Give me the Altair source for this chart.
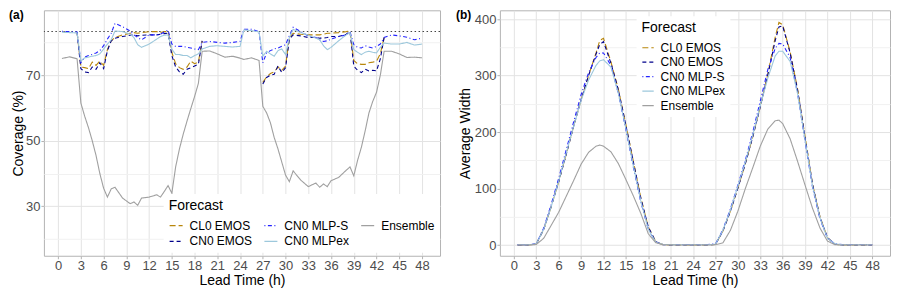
import altair as alt
import pandas as pd

FORECASTS = ["CL0 EMOS", "CN0 EMOS", "CN0 MLP-S", "CN0 MLPex", "Ensemble"]
COLORS = ["#B8860B", "#00008B", "#2424FF", "#9DC8DC", "#A0A0A0"]
DASHES = [[6, 3], [4, 3], [1, 2.5, 4, 2.5], [1, 0], [1, 0]]
X_TICKS = list(range(0, 49, 3))
NOMINAL = [83.33]
PANEL_LABELS = ["(a)", "(b)"]

# ---- panel (a): coverage ----
LT = [0.5, 1.5, 2.5, 3, 3.5, 4, 4.5, 5, 5.5, 6, 6.5, 7, 7.5, 8.5, 9.5, 10, 10.5, 11, 12, 13,
      13.5, 14, 14.5, 15, 15.5, 16, 16.5, 17, 17.5, 18, 18.5, 19, 20, 21, 22, 23, 24, 24.5,
      25.5, 26.5, 27, 27.5, 28, 28.5, 29, 29.5, 30, 30.5, 31, 32, 33, 34, 34.5, 35, 35.5, 36,
      37, 38, 38.5, 39, 39.5, 40, 40.5, 41, 41.5, 42, 42.5, 43, 44, 45, 46, 47, 48]

CL0_EMOS_COV = [None, None, 83.0, 72.5, 72.3, 72.0, 74.0, 73.0, 74.3, 73.0, 77.8, 80.5, 81.5, 82.3,
                82.8, 83.0, 82.8, 83.0, 83.3, 83.3, 83.0, 83.3, 83.3, 77.0, 73.5, 72.3, 71.8, 72.5,
                74.3, 73.5, 74.0, 80.5, None, None, None, None, None, None, None, None, 67.8, 69.5,
                70.5, 71.0, 72.5, 71.5, 72.8, 81.5, 82.8, 82.5, 82.3, 82.3, 82.3, 82.5, 82.8, 82.8,
                83.0, 83.3, 83.5, 74.5, 73.5, 73.3, 73.3, 73.8, 74.0, 74.3, 76.5, 81.5, None, None,
                None, None, None]
CN0_EMOS_COV = [None, None, 83.1, 72.0, 71.0, 70.8, 72.5, 71.8, 73.8, 72.0, 77.5, 80.5, 81.3, 81.8,
                82.2, 82.3, 82.0, 82.2, 82.3, 82.3, 82.5, 82.7, 82.8, 76.0, 72.5, 71.0, 70.3, 71.8,
                72.3, 72.8, 73.3, 80.5, None, None, None, None, None, None, None, None, 67.3, 69.3,
                70.0, 70.3, 72.8, 70.8, 72.3, 81.0, 82.3, 82.0, 81.5, 81.5, 81.3, 81.3, 81.5, 81.8,
                81.8, 82.5, 83.3, 72.8, 71.5, 70.8, 71.8, 71.3, 71.5, 71.3, 75.0, 81.5, None, None,
                None, None, None]
MLPS_COV = [83.4, 83.3, 83.2, 73.8, 75.5, 76.0, 76.3, 76.8, 77.5, 79.0, 81.0, 82.8, 85.8, 84.8,
            83.5, 82.3, 81.5, 80.8, 82.3, 82.3, 82.5, 83.2, 83.8, 79.5, 78.8, 78.8, 78.8, 78.5,
            78.3, 78.0, 77.8, 80.0, 80.3, 80.0, 79.8, 80.0, 80.3, 84.0, 84.0, 83.3, 73.8, 76.8,
            77.5, 78.0, 78.3, 78.8, 79.3, 82.0, 84.6, 83.3, 82.0, 81.5, 80.8, 80.3, 80.5, 81.0,
            81.8, 82.3, 83.3, 79.3, 78.5, 78.3, 79.0, 78.6, 78.3, 78.8, 79.5, 81.5, 82.3, 82.0,
            81.6, 80.8, 81.3]
MLPEX_COV = [83.1, 83.0, 82.9, 74.3, 75.3, 75.5, 75.8, 76.0, 76.5, 78.0, 79.5, 80.8, 83.5, 83.3,
             82.5, 81.5, 79.3, 78.5, 79.5, 81.0, 81.8, 82.2, 82.3, 78.0, 76.3, 76.3, 76.0, 76.0,
             75.3, 76.0, 76.5, 78.0, 78.8, 79.0, 78.8, 78.6, 78.8, 83.8, 83.6, 83.2, 75.8, 77.3,
             76.5, 75.8, 77.5, 78.0, 76.3, 81.5, 84.0, 83.0, 82.2, 81.3, 80.8, 79.0, 77.8, 78.5,
             80.5, 82.3, 83.0, 77.8, 77.0, 76.3, 77.0, 77.3, 77.0, 76.8, 78.5, 79.8, 79.5, 79.5,
             80.0, 79.2, 79.5]
ENS_COV = [75.1, 75.6, 75.0, 61.5, 57.5, 54.0, 50.0, 45.5, 40.0, 35.5, 32.8, 35.3, 35.8, 32.5,
           30.8, 31.3, 30.3, 32.5, 32.8, 33.5, 32.8, 34.5, 36.3, 34.0, 42.0, 47.5, 52.0, 56.0,
           59.8, 63.5, 67.5, 77.3, 77.4, 76.5, 75.5, 75.8, 75.2, 74.8, 75.3, 74.5, 60.5, 58.5,
           55.5, 51.0, 47.5, 43.5, 39.5, 37.5, 40.8, 38.0, 36.0, 37.1, 35.8, 36.8, 36.0, 37.8,
           38.8, 41.0, 42.0, 39.3, 44.0, 48.0, 53.0, 58.5, 62.0, 64.8, 70.0, 77.3, 77.3, 76.5,
           75.4, 75.5, 75.3]

# ---- panel (b): average width ----
RT = [0.5, 1, 2, 3, 4, 5, 6, 7, 8, 9, 10, 11, 11.5, 12, 13, 14, 15, 16, 17, 18, 19, 20, 22, 24,
      26, 27, 28, 29, 30, 31, 32, 33, 34, 35, 35.5, 36, 37, 38, 39, 40, 41, 42, 43, 44, 46, 48]
CL0_EMOS_W = [0, 0, 0, 2, 28, 68, 112, 160, 210, 257, 300, 340, 362, 366, 324, 275, 213, 148, 84,
              32, 6, 0.5, 0, 0, 0, 1, 25, 60, 101, 144, 192, 245, 302, 368, 394, 390, 342, 276,
              192, 108, 50, 13, 1.5, 0, 0, 0]
CN0_EMOS_W = [0, 0, 0, 2, 28, 68, 112, 160, 210, 257, 300, 338, 355, 360, 322, 274, 212, 147, 83,
              32, 6, 0.5, 0, 0, 0, 1, 25, 60, 101, 144, 192, 245, 300, 362, 386, 388, 340, 274,
              190, 107, 49, 13, 1.5, 0, 0, 0]
MLPS_W = [0.5, 0.5, 0.5, 2, 30, 72, 118, 168, 218, 266, 305, 332, 340, 340, 318, 268, 204, 138,
          76, 28, 5, 1, 1, 1, 1, 2, 27, 64, 106, 150, 200, 255, 310, 348, 357, 356, 332, 268,
          184, 102, 46, 12, 2, 1, 1, 0.5]
MLPEX_W = [0.5, 0.5, 0.5, 2, 28, 68, 113, 162, 210, 256, 292, 318, 326, 328, 315, 268, 206, 140,
           78, 28, 5, 1, 0.5, 0.5, 0.5, 1.5, 26, 62, 104, 147, 195, 247, 295, 335, 343, 343, 325,
           268, 186, 104, 48, 12, 2, 0.5, 0.5, 0.5]
ENS_W = [0, 0, 0, 1, 12, 35, 58, 86, 114, 143, 164, 175, 177, 175, 165, 144, 116, 87, 56, 20, 4,
         0.5, 0, 0, 0, 0.5, 4, 26, 60, 100, 137, 175, 205, 220, 221, 215, 188, 148, 106, 65, 30,
         7, 0.5, 0, 0, 0]


def long_frame(times, series_list):
    rows = []
    for name, vals in zip(FORECASTS, series_list):
        for t, v in zip(times, vals):
            rows.append({"t": t, "v": v, "Forecast": name})
    return pd.DataFrame(rows)


cov_df = long_frame(LT, [CL0_EMOS_COV, CN0_EMOS_COV, MLPS_COV, MLPEX_COV, ENS_COV])
wid_df = long_frame(RT, [CL0_EMOS_W, CN0_EMOS_W, MLPS_W, MLPEX_W, ENS_W])
nom_df = pd.DataFrame({"y": NOMINAL})

FONT = "Liberation Sans"
XDOM = [-1.875, 50.375]

x_enc = alt.X("t:Q", title="Lead Time (h)",
              scale=alt.Scale(domain=XDOM, nice=False, zero=False),
              axis=alt.Axis(values=X_TICKS, labelPadding=1, titlePadding=1))

# legend (a) is 2 rows x 3 columns filled column-wise in the original
ORDER_A = ["CL0 EMOS", "CN0 MLP-S", "Ensemble", "CN0 EMOS", "CN0 MLPex"]
col_a = [COLORS[FORECASTS.index(f)] for f in ORDER_A]
dash_a = [DASHES[FORECASTS.index(f)] for f in ORDER_A]

leg_a = alt.Legend(orient="none", legendX=120, legendY=184, direction="horizontal", columns=3,
                   title="Forecast", columnPadding=9, rowPadding=2, symbolSize=170,
                   labelOffset=6, titlePadding=5)
leg_b = alt.Legend(orient="none", legendX=137, legendY=6, direction="vertical",
                   title="Forecast", rowPadding=1.5, symbolSize=130, labelOffset=6, titlePadding=6)

grid_a = {"condition": {"test": "datum.value % 20 === 10", "value": "#E3E3E3"}, "value": "#F1F1F1"}
tick_a = {"condition": {"test": "datum.value % 20 === 10", "value": 1}, "value": 0}
grid_b = {"condition": {"test": "datum.value % 100 === 0", "value": "#E3E3E3"}, "value": "#F1F1F1"}
tick_b = {"condition": {"test": "datum.value % 100 === 0", "value": 1}, "value": 0}


def panel_label(i, dx):
    return alt.Chart(pd.DataFrame({"lab": [PANEL_LABELS[i]]})).mark_text(
        align="left", baseline="top", fontSize=12, fontWeight="bold", color="black", font=FONT
    ).encode(text="lab:N", x=alt.value(dx), y=alt.value(0))


nominal = alt.Chart(nom_df).mark_rule(color="#444444", strokeDash=[1.5, 2.5], strokeWidth=1).encode(
    y=alt.Y("y:Q"))

lines_a = alt.Chart(cov_df).mark_line(strokeWidth=1.1, clip=True,
                                      invalid="break-paths-show-domains").encode(
    x=x_enc,
    y=alt.Y("v:Q", title="Coverage (%)",
            scale=alt.Scale(domain=[14.9, 89.8], nice=False, zero=False),
            axis=alt.Axis(values=[20, 30, 40, 50, 60, 70, 80],
                          labelExpr="datum.value % 20 === 10 ? datum.label : ''",
                          gridColor=grid_a, tickOpacity=tick_a, labelPadding=1, titlePadding=0)),
    color=alt.Color("Forecast:N", scale=alt.Scale(domain=ORDER_A, range=col_a), legend=leg_a),
    strokeDash=alt.StrokeDash("Forecast:N", scale=alt.Scale(domain=ORDER_A, range=dash_a), legend=leg_a),
)

left = alt.layer(nominal, lines_a, panel_label(0, -35)).properties(width=397, height=246)

lines_b = alt.Chart(wid_df).mark_line(strokeWidth=1.1, clip=True).encode(
    x=x_enc,
    y=alt.Y("v:Q", title="Average Width",
            scale=alt.Scale(domain=[-19, 415.5], nice=False, zero=False),
            axis=alt.Axis(values=list(range(0, 401, 50)),
                          labelExpr="datum.value % 100 === 0 ? datum.label : ''",
                          gridColor=grid_b, tickOpacity=tick_b, labelPadding=1, titlePadding=2)),
    color=alt.Color("Forecast:N", scale=alt.Scale(domain=FORECASTS, range=COLORS), legend=leg_b),
    strokeDash=alt.StrokeDash("Forecast:N", scale=alt.Scale(domain=FORECASTS, range=DASHES), legend=leg_b),
)

right = alt.layer(lines_b, panel_label(1, -44)).properties(width=391, height=246)

chart = alt.hconcat(left, right, spacing=14).resolve_scale(
    color="independent", strokeDash="independent"
).properties(padding=0).configure(font=FONT).configure_view(
    stroke="#B3B3B3", strokeWidth=1
).configure_axis(
    domain=False, tickColor="#B3B3B3", tickSize=3, labelColor="#4D4D4D", labelFontSize=13,
    titleFontSize=14, titleFontWeight="normal", titleColor="black", labelFont=FONT, titleFont=FONT,
    gridWidth=1,
).configure_axisX(gridColor="#E3E3E3").configure_legend(
    titleFontSize=14, titleFontWeight="normal", titleColor="black", labelFontSize=12,
    labelColor="black", symbolStrokeWidth=1.2, fillColor="white", padding=5, titleFont=FONT,
    labelFont=FONT,
)

chart.save("out.html", embed_options={"renderer": "svg", "actions": False})
